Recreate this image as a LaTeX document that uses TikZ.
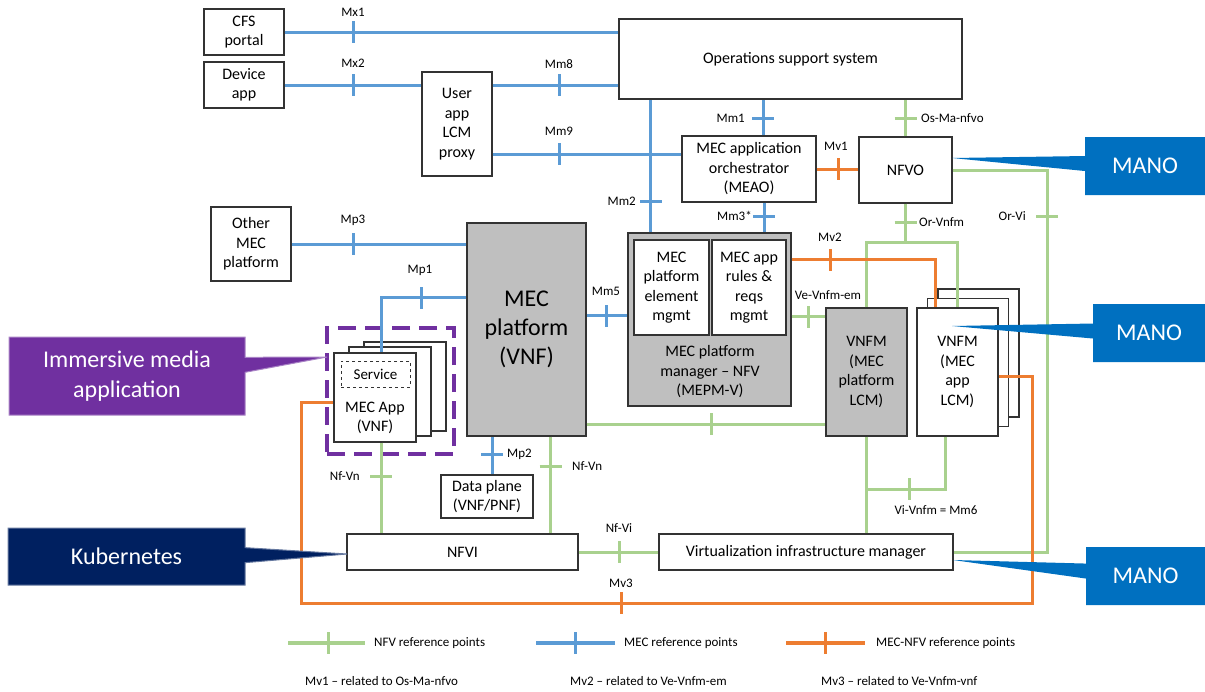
\documentclass[tikz,border=0pt]{standalone}
\usepackage{fontspec}
\setmainfont{Carlito}
\usepackage{tikz}
\usetikzlibrary{shapes.callouts,shadows,positioning}
\usepackage{xcolor}
\definecolor{mecblue}{RGB}{91,155,213}
\definecolor{nfvgreen}{RGB}{169,209,142}
\definecolor{mvorange}{RGB}{237,125,49}
\definecolor{platgray}{RGB}{191,191,191}
\definecolor{boxedge}{RGB}{51,51,51}
\definecolor{manoblue}{RGB}{0,112,192}
\definecolor{immpurple}{RGB}{112,48,160}
\definecolor{kubenavy}{RGB}{0,32,96}
\tikzstyle{box} = [draw=boxedge, line width=1.3pt, fill=white, align=center, inner sep=2pt, font=\fontsize{16}{19.5}\selectfont]
\tikzstyle{graybox} = [box, fill=platgray]
\tikzstyle{mec} = [line width=3pt, color=mecblue]
\tikzstyle{nfv} = [line width=3pt, color=nfvgreen]
\tikzstyle{mecnfv} = [line width=3pt, color=mvorange]
\tikzstyle{rplbl} = [font=\fontsize{13}{15}\selectfont, inner sep=1pt]
\tikzstyle{calloutbox} = [rectangle callout, callout pointer width=15pt, text=white, align=center, font=\fontsize{24}{30}\selectfont]
\newcommand{\vtick}[2]{\draw[#1] (#2) ++(0,-11) -- ++(0,22);}
\newcommand{\htick}[2]{\draw[#1] (#2) ++(-11,0) -- ++(22,0);}

\begin{document}
\begin{tikzpicture}[x=1pt, y=-1pt]
\useasboundingbox (0,0) rectangle (1205,691);

% Boxes
\node[box, minimum width=80, minimum height=46] (cfs) at (244,32) {CFS\\portal};
\node[box, minimum width=80, minimum height=46] (devapp) at (244,85) {Device\\app};
\node[box, minimum width=70, minimum height=104] (proxy) at (457,124) {User\\app\\LCM\\proxy};
\node[box, minimum width=343, minimum height=80] (oss) at (790.5,59) {Operations support system};
\node[box, minimum width=134, minimum height=66] (meao) at (749,169) {MEC application\\orchestrator\\(MEAO)};
\node[box, minimum width=93, minimum height=66] (nfvo) at (905.5,170) {NFVO};
\node[box, minimum width=80, minimum height=74] (othermec) at (251,244) {Other\\MEC\\platform};
\node[graybox, minimum width=119, minimum height=213, font=\fontsize{24}{29}\selectfont] (mecplat) at (526.5,329.5) {MEC\\platform\\(VNF)};
\node[graybox, minimum width=163, minimum height=173] (mepm) at (709.5,319.5) {};
\node[box, minimum width=75, minimum height=95] (pem) at (671.5,287.5) {MEC\\platform\\element\\mgmt};
\node[box, minimum width=74, minimum height=95] (arr) at (749,287.5) {MEC app\\rules \&\\reqs\\mgmt};
\node[align=center, font=\fontsize{16}{19.5}\selectfont] (mepmtext) at (710,372) {MEC platform\\manager -- NFV\\(MEPM-V)};
\node[graybox, minimum width=81, minimum height=128] (vnfmp) at (866.5,372) {VNFM\\(MEC\\platform\\LCM)};
\node[box, minimum width=81, minimum height=128,
  copy shadow={draw=boxedge, shadow xshift=21pt, shadow yshift=19pt},
  copy shadow={draw=boxedge, shadow xshift=10.5pt, shadow yshift=9.5pt}] (vnfma) at (957.5,372) {VNFM\\(MEC\\app\\LCM)};

% MEC app group
\node[draw=immpurple, line width=4pt, dash pattern=on 18pt off 9pt, minimum width=127, minimum height=126] (appgroup) at (390.5,391) {};
\node[box, minimum width=82, minimum height=89,
  copy shadow={draw=boxedge, shadow xshift=30pt, shadow yshift=11pt},
  copy shadow={draw=boxedge, shadow xshift=15pt, shadow yshift=6pt}] (mecapp) at (375,397.5) {};
\node[box, dashed, line width=0.8pt, minimum width=69, minimum height=26, font=\fontsize{15}{18}\selectfont] (service) at (375.5,374) {Service};
\node[align=center, font=\fontsize{16}{19.5}\selectfont] (appname) at (375,418) {MEC App\\(VNF)};

\node[box, minimum width=92, minimum height=43] (dataplane) at (487,496.5) {Data plane\\(VNF/PNF)};
\node[box, minimum width=231, minimum height=36] (nfvi) at (462.5,552) {NFVI};
\node[box, minimum width=294, minimum height=36] (vim) at (806,552) {Virtualization infrastructure manager};

% MEC reference points
\draw[mec] (cfs.east) -- (cfs.east -| oss.west);
\vtick{mec}{353,32}
\node[rplbl] (lmx1) at (353,12) {Mx1};
\draw[mec] (devapp.east) -- (devapp.east -| proxy.west);
\vtick{mec}{353,85}
\node[rplbl] (lmx2) at (353,63) {Mx2};
\draw[mec] (proxy.north east |- devapp.east) -- (devapp.east -| oss.west);
\vtick{mec}{559,85}
\node[rplbl] (lmm8) at (559,64) {Mm8};
\draw[mec] ([yshift=22pt]proxy.south east) coordinate (mm9a) -- (mm9a -| meao.west);
\vtick{mec}{559,154}
\node[rplbl] (lmm9) at (559,131) {Mm9};
\draw[mec] ([xshift=14pt]meao.north) coordinate (mm1a) -- (mm1a |- oss.south);
\htick{mec}{763,118}
\node[rplbl, anchor=east] (lmm1) at (746,118) {Mm1};
\draw[mec] ([xshift=23pt]mepm.north west) coordinate (mm2a) -- (mm2a |- oss.south);
\htick{mec}{651,201}
\node[rplbl, anchor=east] (lmm2) at (637,201) {Mm2};
\draw[mec] ([xshift=15pt]meao.south) coordinate (mm3a) -- (mm3a |- mepm.north);
\htick{mec}{764,216}
\node[rplbl, anchor=east] (lmm3) at (753,216) {Mm3*};
\draw[mec] (othermec.east) -- (othermec.east -| mecplat.west);
\vtick{mec}{353,244}
\node[rplbl] (lmp3) at (353,220) {Mp3};
\draw[mec] ([yshift=-75pt]mecplat.north west) -| ([xshift=6pt]mecapp.north);
\vtick{mec}{421,298}
\node[rplbl] (lmp1) at (420,270) {Mp1};
\draw[mec] ([yshift=-93pt]mecplat.north east) coordinate (mm5a) -- (mm5a -| mepm.west);
\vtick{mec}{606,316}
\node[rplbl] (lmm5) at (606,291) {Mm5};
\draw[mec] ([xshift=5pt]dataplane.north) coordinate (mp2a) -- (mp2a |- mecplat.south);
\htick{mec}{492,454}
\node[rplbl, anchor=west] (lmp2) at (506,454) {Mp2};

% NFV reference points
\draw[nfv] (nfvo.north) -- (nfvo.north |- oss.south);
\htick{nfv}{905.5,118}
\node[rplbl, anchor=west] (losma) at (920,118) {Os-Ma-nfvo};
\coordinate (orvi) at (1047,300);
\draw[nfv] (nfvo.east) -| (orvi) |- (vim.east);
\htick{nfv}{1047,216}
\node[rplbl, anchor=east] (lorvi) at (1027,216) {Or-Vi};
\coordinate (orvnfm) at (905.5,242);
\draw[nfv] (nfvo.south) -- (orvnfm);
\draw[nfv] (vnfmp.north) |- (orvnfm) -| (vnfma.north);
\htick{nfv}{905.5,222}
\node[rplbl, anchor=west] (lorvnfm) at (918,222) {Or-Vnfm};
\draw[nfv] ([yshift=-84pt]mepm.north east) coordinate (vea) -- (vea -| vnfmp.west);
\vtick{nfv}{808,317}
\node[rplbl] (lvevnfm) at (828,295) {Ve-Vnfm-em};
\draw[nfv] ([yshift=12pt]mecplat.south east) coordinate (plata) -- (plata -| vnfmp.west);
\vtick{nfv}{711,424}
\draw[nfv] (vnfmp.south) -- (vnfmp.south |- vim.north);
\draw[nfv] ([xshift=-12pt]vnfma.south) |- (vnfmp.south |- 0,489);
\vtick{nfv}{909,489}
\node[rplbl] (lvivnfm) at (936,510) {Vi-Vnfm = Mm6};
\draw[nfv] ([xshift=6pt]mecapp.south) coordinate (nfvna) -- (nfvna |- nfvi.north);
\htick{nfv}{381,476}
\node[rplbl, anchor=east] (lnfvn1) at (361,476) {Nf-Vn};
\draw[nfv] ([xshift=24pt]mecplat.south) coordinate (nfvnb) -- (nfvnb |- nfvi.north);
\htick{nfv}{550.5,466}
\node[rplbl, anchor=west] (lnfvn2) at (571,466) {Nf-Vn};
\draw[nfv] (nfvi.east) -- (vim.west);
\vtick{nfv}{619,552}
\node[rplbl] (lnfvi) at (619,528) {Nf-Vi};

% MEC-NFV reference points
\draw[mecnfv] (meao.east) -- (meao.east -| nfvo.west);
\vtick{mecnfv}{838,169}
\node[rplbl] (lmv1) at (836,146) {Mv1};
\draw[mecnfv] ([yshift=-27pt]mepm.north east) -| ([xshift=-22pt]vnfma.north);
\vtick{mecnfv}{830,260}
\node[rplbl] (lmv2) at (830,237) {Mv2};
\coordinate (mv3r) at (1032,603);
\coordinate (mv3l) at (301,603);
\draw[mecnfv] ([yshift=-4pt]vnfma.east) -| (mv3r) -- (mv3l) |- ([yshift=-4.5pt]mecapp.west);
\vtick{mecnfv}{621,603}
\node[rplbl] (lmv3) at (621,583) {Mv3};

% Callouts
\node[calloutbox, fill=manoblue, minimum width=120, minimum height=58, callout absolute pointer={(952,158)}] (mano1) at (1145,166) {MANO};
\node[calloutbox, fill=manoblue, minimum width=112, minimum height=58, callout absolute pointer={(952,326)}] (mano2) at (1149,333) {MANO};
\node[calloutbox, fill=manoblue, minimum width=119, minimum height=58, callout absolute pointer={(953,560)}] (mano3) at (1145.5,576) {MANO};
\node[calloutbox, fill=immpurple, draw=immpurple!60, line width=1pt, minimum width=236, minimum height=78, callout absolute pointer={(327,357)}] (immersive) at (127,376) {Immersive media\\application};
\node[calloutbox, fill=kubenavy, draw=kubenavy!60, line width=1pt, minimum width=237, minimum height=57, callout absolute pointer={(347,554)}] (kube) at (126.5,556.5) {Kubernetes};

% Legend
\draw[nfv, line width=4.5pt] (288,643) -- (365,643);
\vtick{nfv}{328,643}
\node[rplbl, anchor=west] (lgnfv) at (373,643) {NFV reference points};
\draw[mec, line width=4.5pt] (536,643) -- (615,643);
\vtick{mec}{575,643}
\node[rplbl, anchor=west] (lgmec) at (623,643) {MEC reference points};
\draw[mecnfv, line width=4.5pt] (786,643) -- (865,643);
\vtick{mecnfv}{825,643}
\node[rplbl, anchor=west] (lgmv) at (875,643) {MEC-NFV reference points};
\node[rplbl, anchor=west] (note1) at (304,681) {Mv1 -- related to Os-Ma-nfvo};
\node[rplbl, anchor=west] (note2) at (569,681) {Mv2 -- related to Ve-Vnfm-em};
\node[rplbl, anchor=west] (note3) at (820,681) {Mv3 -- related to Ve-Vnfm-vnf};
\end{tikzpicture}
\end{document}
